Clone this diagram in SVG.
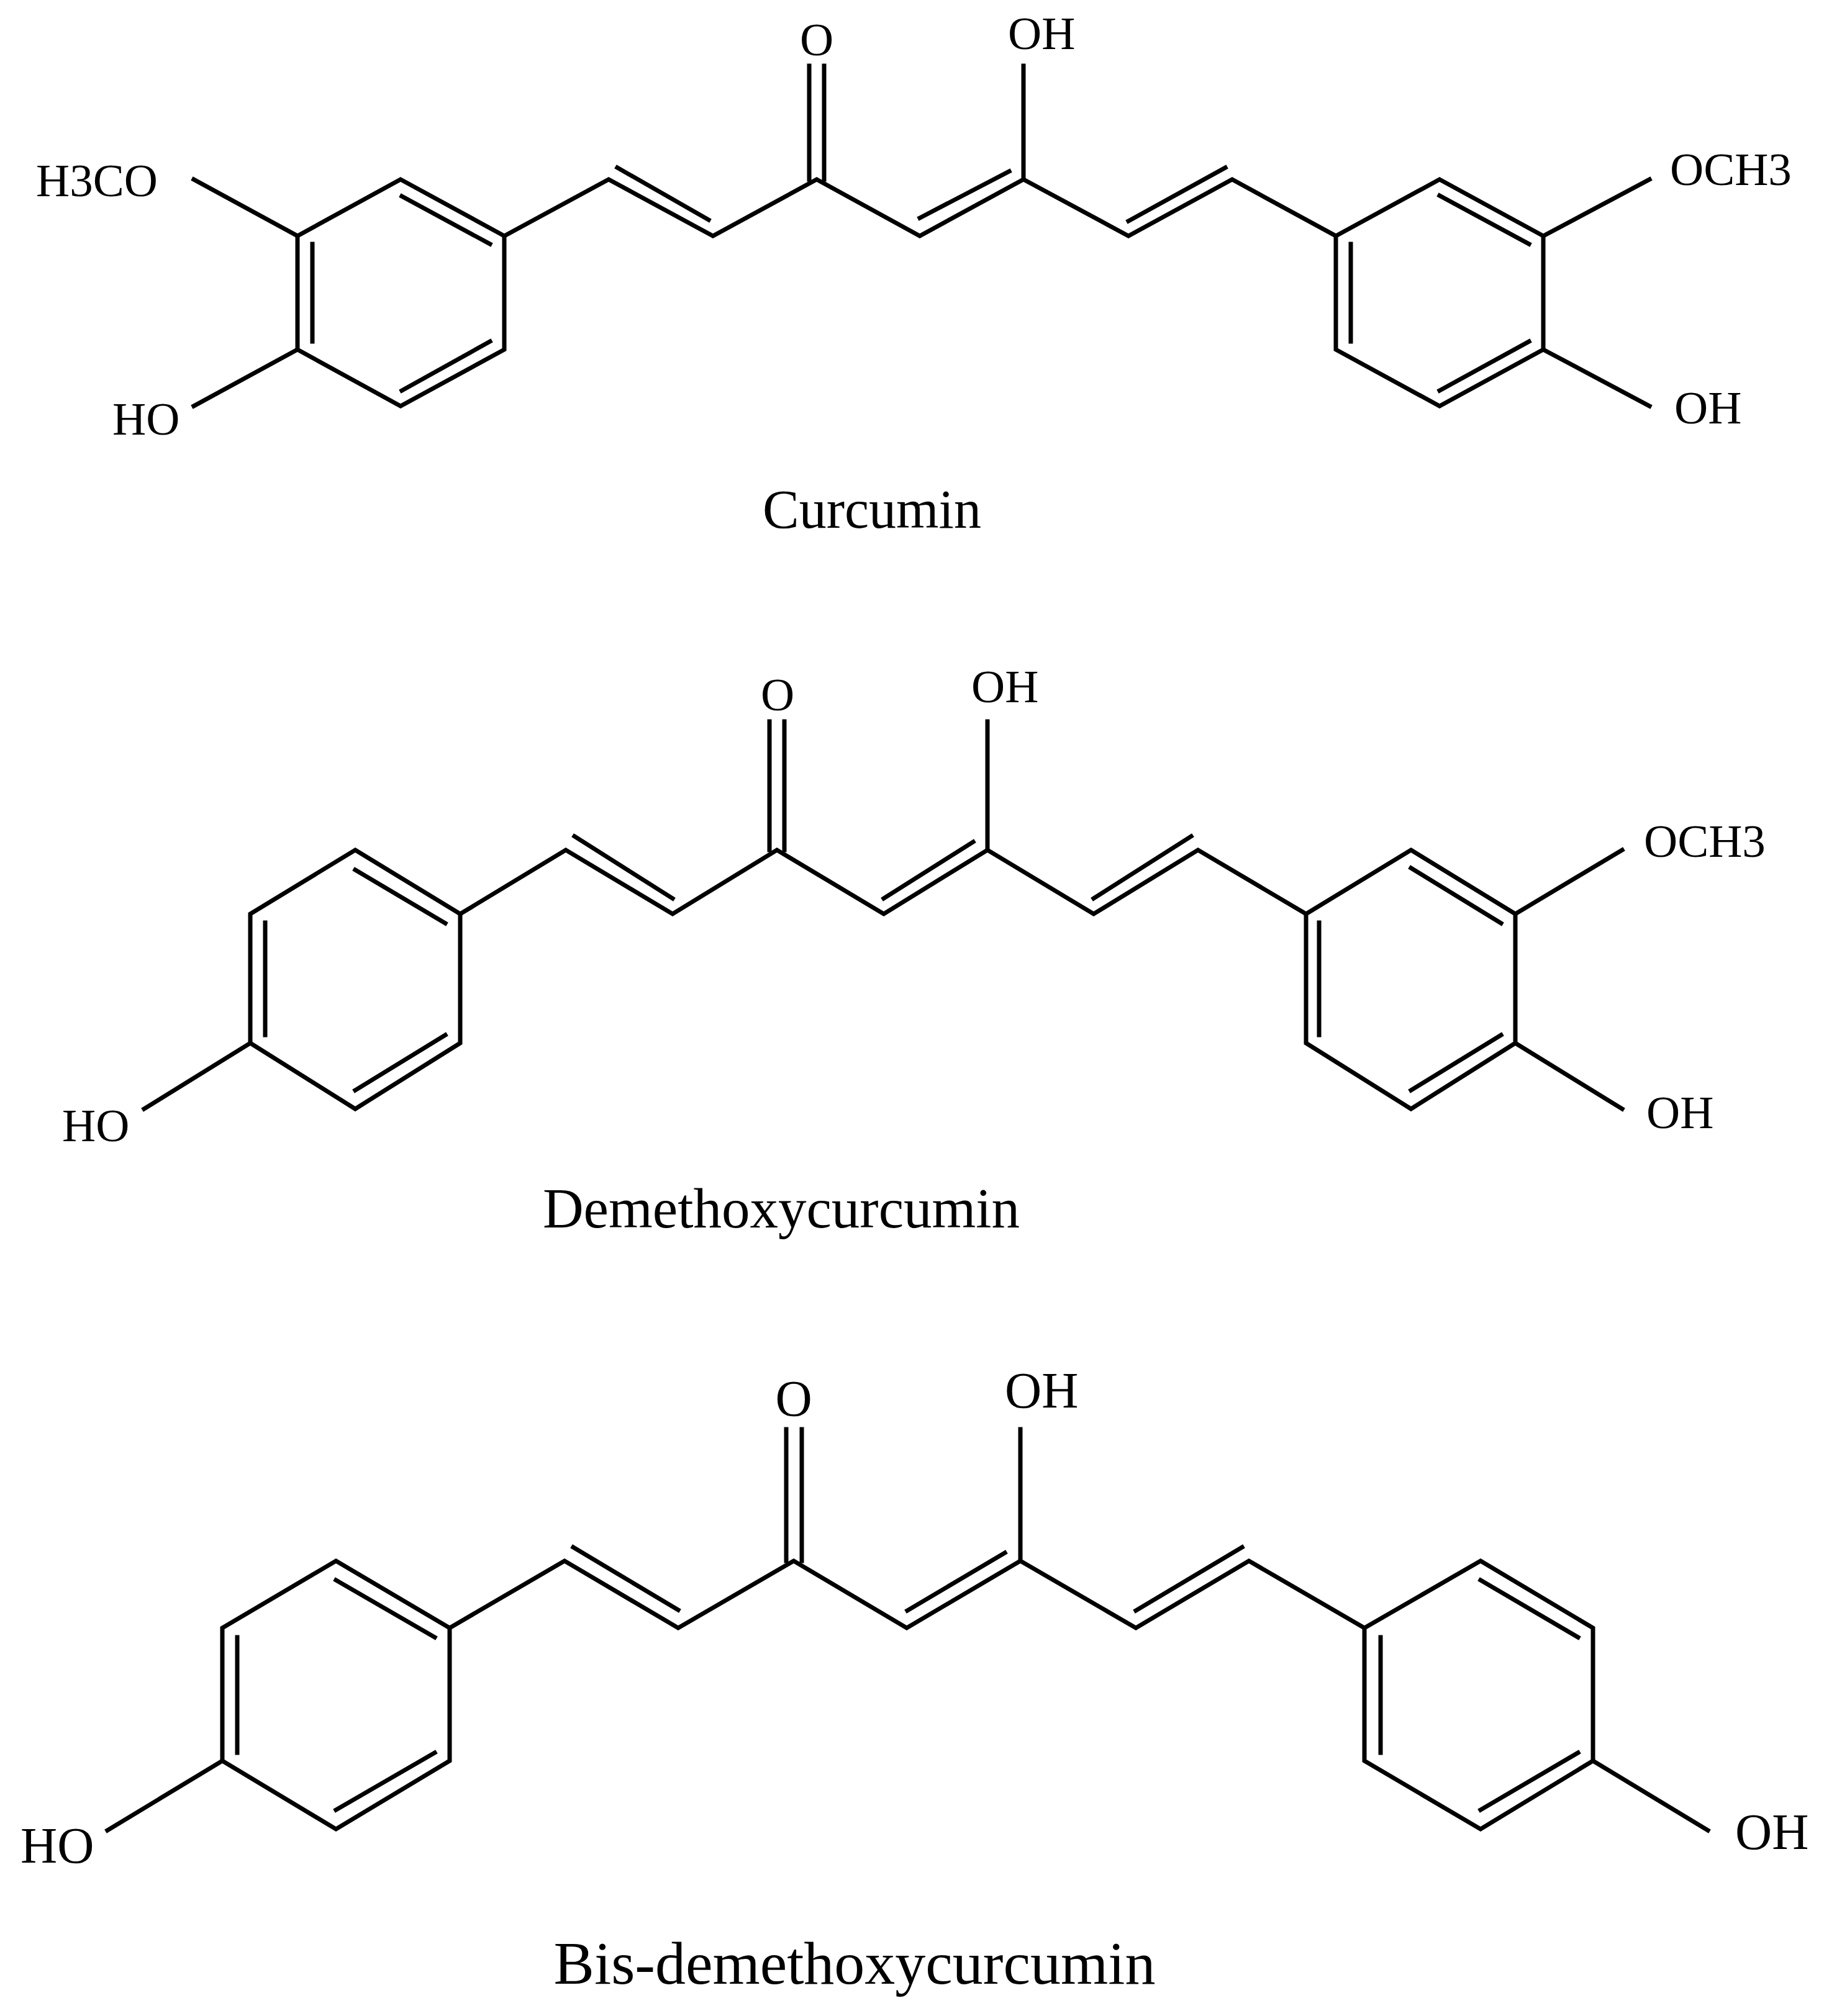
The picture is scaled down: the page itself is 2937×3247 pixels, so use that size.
<svg xmlns="http://www.w3.org/2000/svg" width="2937" height="3247" viewBox="0 0 2937 3247">
<style>
.b{stroke:#000;stroke-width:7;fill:none;stroke-linecap:square;stroke-linejoin:miter}
text{font-family:"Liberation Serif","Times New Roman",serif;fill:#000}
.a{font-size:75px}.a3{font-size:82px}
</style>
<rect width="2937" height="3247" fill="#fff"/>
<g id="curcumin">
<g class="b">
<polygon points="645,289 812,380 812,563 645,654 479,563 479,380"/>
<line x1="503" y1="393" x2="503" y2="550"/><line x1="647" y1="316" x2="789" y2="393"/><line x1="647" y1="629" x2="789" y2="550"/>
<line x1="479" y1="380" x2="312" y2="289"/><line x1="479" y1="563" x2="312" y2="654"/>
<polyline points="812,380 980,289 1148,380 1315,289 1481,380 1648,289 1817,380 1984,289 2151,380"/>
<line x1="994" y1="270" x2="1141" y2="354"/><line x1="1481" y1="351" x2="1625" y2="276"/><line x1="1817" y1="356" x2="1973" y2="270"/>
<line x1="1303" y1="106" x2="1303" y2="289"/><line x1="1327" y1="106" x2="1327" y2="289"/>
<line x1="1648" y1="106" x2="1648" y2="289"/>
<polygon points="2318,289 2485,380 2485,563 2318,654 2151,563 2151,380"/>
<line x1="2175" y1="393" x2="2175" y2="550"/><line x1="2318" y1="315" x2="2462" y2="393"/><line x1="2318" y1="629" x2="2462" y2="550"/>
<line x1="2485" y1="380" x2="2656" y2="289"/><line x1="2485" y1="563" x2="2656" y2="654"/>
</g>
<text class="a" x="58" y="316">H3CO</text>
<text class="a" x="181" y="700">HO</text>
<text class="a" x="1315" y="89" text-anchor="middle">O</text>
<text class="a" x="1623" y="79">OH</text>
<text class="a" x="2689" y="298">OCH3</text>
<text class="a" x="2696" y="682">OH</text>
<text x="1404" y="850" font-size="88" text-anchor="middle">Curcumin</text>
</g>
<g id="demethoxycurcumin">
<g class="b">
<polygon points="572,1369 741,1472 741,1680 572,1786 403,1680 403,1472"/>
<line x1="427" y1="1486" x2="427" y2="1667"/><line x1="572" y1="1401" x2="717" y2="1487"/><line x1="572" y1="1756" x2="717" y2="1667"/>
<line x1="403" y1="1680" x2="232" y2="1786"/>
<polyline points="741,1472 911,1369 1083,1472 1251,1369 1423,1472 1590,1369 1761,1472 1929,1369 2103,1472"/>
<line x1="925" y1="1347" x2="1083" y2="1447"/><line x1="1423" y1="1447" x2="1567" y2="1356"/><line x1="1761" y1="1447" x2="1918" y2="1347"/>
<line x1="1239" y1="1162" x2="1239" y2="1369"/><line x1="1263" y1="1162" x2="1263" y2="1369"/>
<line x1="1590" y1="1162" x2="1590" y2="1369"/>
<polygon points="2272,1369 2440,1472 2440,1680 2272,1786 2103,1680 2103,1472"/>
<line x1="2124" y1="1486" x2="2124" y2="1667"/><line x1="2272" y1="1398" x2="2417" y2="1487"/><line x1="2272" y1="1756" x2="2417" y2="1667"/>
<line x1="2440" y1="1472" x2="2612" y2="1369"/><line x1="2440" y1="1680" x2="2612" y2="1786"/>
</g>
<text class="a" x="100" y="1838">HO</text>
<text class="a" x="1252" y="1144" text-anchor="middle">O</text>
<text class="a" x="1564" y="1131">OH</text>
<text class="a" x="2647" y="1380">OCH3</text>
<text class="a" x="2651" y="1817">OH</text>
<text x="1258" y="1977" font-size="91" text-anchor="middle">Demethoxycurcumin</text>
</g>
<g id="bisdemethoxycurcumin">
<g class="b">
<polygon points="541,2514 724,2622 724,2836 541,2946 358,2836 358,2622"/>
<line x1="382" y1="2637" x2="382" y2="2823"/><line x1="541" y1="2545" x2="700" y2="2637"/><line x1="541" y1="2915" x2="700" y2="2823"/>
<line x1="358" y1="2836" x2="173" y2="2948"/>
<polyline points="724,2622 909,2514 1092,2622 1278,2514 1460,2622 1643,2514 1829,2622 2011,2514 2197,2622"/>
<line x1="923" y1="2492" x2="1092" y2="2593"/><line x1="1461" y1="2594" x2="1618" y2="2501"/><line x1="1829" y1="2594" x2="2000" y2="2492"/>
<line x1="1266" y1="2302" x2="1266" y2="2514"/><line x1="1291" y1="2302" x2="1291" y2="2514"/>
<line x1="1643" y1="2302" x2="1643" y2="2514"/>
<polygon points="2384,2514 2565,2622 2565,2836 2384,2946 2197,2836 2197,2622"/>
<line x1="2223" y1="2637" x2="2223" y2="2823"/><line x1="2384" y1="2545" x2="2541" y2="2637"/><line x1="2384" y1="2915" x2="2541" y2="2823"/>
<line x1="2565" y1="2836" x2="2750" y2="2948"/>
</g>
<text class="a3" x="33" y="3000">HO</text>
<text class="a3" x="1278" y="2280" text-anchor="middle">O</text>
<text class="a3" x="1618" y="2267">OH</text>
<text class="a3" x="2794" y="2978">OH</text>
<text x="1376" y="3195" font-size="98" text-anchor="middle">Bis-demethoxycurcumin</text>
</g>
</svg>
